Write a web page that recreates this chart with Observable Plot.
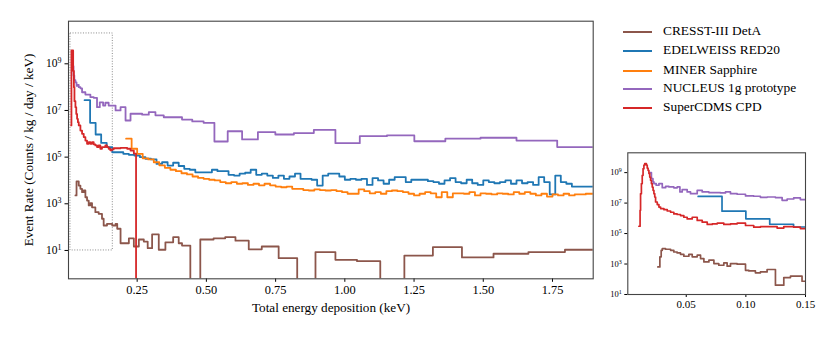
<!DOCTYPE html>
<html>
<head>
<meta charset="utf-8">
<script src="https://cdn.jsdelivr.net/npm/d3@7"></script>
<script src="https://cdn.jsdelivr.net/npm/@observablehq/plot@0.6"></script>
<style>
  html, body { margin: 0; padding: 0; background: #fff; }
  #wrap { position: relative; width: 831px; height: 340px; overflow: hidden;
          font-family: "Liberation Serif", "Times New Roman", serif; color: #000; }
  #wrap svg { position: absolute; overflow: visible; }
  .lab { position: absolute; font-size: 13.2px; white-space: nowrap; }
  .legrow { position: absolute; left: 623px; height: 14px; font-size: 13.4px; white-space: nowrap; }
  .legrow .sw { position: absolute; left: 0; top: 6px; width: 29px; height: 2px; }
  .legrow .tx { position: absolute; left: 40px; top: -2px; line-height: 16px; }
</style>
</head>
<body>
<div id="wrap"></div>
<script>
// ---------------- data ----------------
const experiments = ["CRESST-III DetA", "EDELWEISS RED20", "MINER Sapphire", "NUCLEUS 1g prototype", "SuperCDMS CPD"];
const colors = ["#8c564b", "#1f77b4", "#ff7f0e", "#9467bd", "#d62728"];

const xTicksMain = [0.25, 0.5, 0.75, 1.0, 1.25, 1.5, 1.75];
const yTicks = [1e1, 1e3, 1e5, 1e7, 1e9];
const xTicksInset = [0.05, 0.10, 0.15];

// Main panel: histogram bin edges (keV) and log10 of rate (counts/kg/day/keV); null = empty bin
const cresstEdges = [0.027,0.031,0.039,0.045,0.051,0.057,0.063,0.069,0.075,0.081,0.087,0.099,0.111,0.123,0.129,0.141,0.160,0.172,0.178,0.19,0.22,0.238,0.256,0.274,0.288,0.304,0.328,0.352,0.380,0.400,0.412,0.442,0.478,0.526,0.568,0.605,0.653,0.70,0.761,0.828,0.894,0.966,1.044,1.128,1.215,1.318,1.423,1.537,1.663,1.795,1.90];
const cresstLog = [3.36,3.96,3.78,3.64,3.50,3.57,3.28,3.14,2.93,3.03,2.85,2.64,2.57,2.36,2.07,2.14,2.07,2.14,1.93,1.31,1.52,1.17,1.47,1.38,1.10,1.69,1.03,1.35,1.57,1.31,1.21,null,1.47,1.52,1.57,1.42,1.05,1.17,0.67,null,0.93,0.60,0.54,null,0.78,1.14,0.70,0.86,0.93,1.03];

// EDELWEISS: uniform 0.02 keV bins starting at 0.06 keV
const edelweissStart = 0.06, edelweissWidth = 0.02;
const edelweissLog = [7.44,6.47,5.97,5.61,5.43, 5.21,5.21,5.14,5.10,5.07, 5.0,4.93,4.9,4.71,4.78,
  4.64,4.76,4.62,4.50,4.46, 4.35,4.35,4.35,4.46,4.40, 4.40,4.24,4.21,4.29,4.33, 4.46,4.24,4.29,4.21,4.11,
  4.21,4.07,4.17,4.29,4.07, 4.07,4.03,3.78,4.21,4.29, 4.29,4.17,4.03,4.07,4.03, 4.07,3.81,4.10,4.0,3.86,
  4.03,4.14,4.14,3.93,4.03, 4.03,4.03,3.97,3.93,3.86, 4.0,4.10,3.93,3.88,4.03, 3.88,3.81,4.0,3.93,3.88,
  3.93,4.0,3.86,4.0,3.88, 3.93,3.81,4.14,3.93,3.40, 4.21,3.93,3.86,3.74,3.74, 3.74,3.74];

// MINER: uniform 0.02 keV bins starting at 0.21 keV
const minerStart = 0.21, minerWidth = 0.02;
const minerLog = [5.79,5.36,5.14,4.95,4.90, 4.78,4.65,4.54,4.46,4.40, 4.31,4.26,4.17,4.11,4.07,
  4.03,4.0,3.93,3.88,3.93, 3.86,3.88,3.81,3.86,3.79, 3.86,3.79,3.74,3.71,3.74, 3.64,3.64,3.59,3.57,3.62,
  3.59,3.57,3.59,3.54,3.50, 3.43,3.43,3.62,3.54,3.45, 3.50,3.43,3.54,3.57,3.54, 3.50,3.43,3.36,3.43,3.50,
  3.45,3.28,3.50,3.28,3.45, 3.45,3.43,3.50,3.36,3.45, 3.43,3.40,3.45,3.43,3.40, 3.50,3.43,3.50,3.43,3.36,
  3.43,3.31,3.40,3.36,3.43, 3.36,3.40,3.40,3.43,3.43];

const nucleusEdges = [0.017,0.020,0.023,0.027,0.031,0.035,0.039,0.045,0.051,0.063,0.081,0.093,0.105,0.115,0.127,0.135,0.147,0.172,0.19,0.208,0.226,0.268,0.292,0.316,0.346,0.376,0.412,0.449,0.49,0.529,0.577,0.629,0.686,0.749,0.816,0.888,0.966,1.054,1.152,1.251,1.363,1.49,1.62,1.767,1.90];
const nucleusLog = [8.9,8.5,8.3,8.2,8.05,8.1,8.0,7.95,7.78,7.68,7.57,7.54,7.14,7.35,7.21,7.33,7.21,7.0,7.14,6.57,6.86,6.82,6.93,6.79,6.71,6.71,6.61,6.53,6.47,5.67,6.11,5.76,6.07,5.97,6.03,6.17,5.60,5.90,5.93,5.68,5.79,5.83,5.71,5.43];

const cdmsEdges = [0.0115,0.0126,0.0188,0.0215,0.0235,0.027,0.030,0.033,0.036,0.039,0.045,0.051,0.057,0.063,0.069,0.075,0.081,0.087,0.093,0.099,0.105,0.111,0.117,0.123,0.129,0.135,0.141,0.147,0.153,0.159,0.165,0.19,0.214,0.226,0.238,0.246,0.30];
const cdmsLog = [6.36,9.57,8.7,8.0,7.4,7.14,6.85,6.64,6.5,6.36,6.14,6.0,5.86,5.71,5.57,5.64,5.57,5.64,5.55,5.5,5.43,5.5,5.36,5.43,5.43,5.5,5.43,5.36,5.29,5.33,5.38,5.40,5.36,5.28,5.15,null];

// Inset panel (finer binning, 0 - 0.15 keV)
const insetCresstEdges = [0.0262,0.0279,0.0290,0.0299,0.0327,0.0369,0.0396,0.0424,0.0452,0.0480,0.0522,0.0550,0.0592,0.0620,0.0648,0.0690,0.0732,0.0773,0.0815,0.0843,0.0871,0.0927,0.0997,0.1025,0.1080,0.1122,0.1178,0.1248,0.1318,0.1374,0.1471,0.151];
const insetCresstLog = [2.81,3.47,3.90,4.01,3.97,3.90,3.79,3.73,3.64,3.51,3.64,3.47,3.58,3.36,3.14,3.25,3.03,2.92,3.07,2.86,3.03,2.99,2.59,2.55,2.42,2.48,2.64,1.61,2.11,2.20,1.87];

const insetNucleusEdges = [0.0195,0.0208,0.0221,0.0229,0.0248,0.0271,0.0299,0.0327,0.0355,0.0396,0.0424,0.0447,0.0466,0.0508,0.0536,0.0592,0.0634,0.069,0.0787,0.0829,0.0871,0.0927,0.0997,0.1066,0.1122,0.1178,0.1248,0.1304,0.1346,0.1401,0.1457,0.151];
const insetNucleusLog = [9.0,8.6,8.39,8.28,8.17,8.28,8.01,8.10,8.06,8.0,8.06,7.73,7.88,7.73,7.62,7.84,7.73,7.69,7.67,7.73,7.62,7.58,7.47,7.45,7.38,7.40,7.36,7.18,7.27,7.34,7.23];

const insetCdmsEdges = [0.0103,0.0113,0.0117,0.0124,0.0131,0.0138,0.0145,0.0152,0.0166,0.0173,0.0180,0.0187,0.0194,0.0201,0.0208,0.0215,0.0222,0.0229,0.0236,0.0243,0.0257,0.0271,0.0285,0.0313,0.0341,0.0369,0.0396,0.0424,0.0452,0.0480,0.0508,0.0550,0.0592,0.0634,0.0676,0.0718,0.0760,0.0815,0.0871,0.0927,0.0997,0.1066,0.1122,0.1178,0.1262,0.1318,0.1401,0.1457,0.151];
const insetCdmsLog = [5.48,6.53,7.62,8.28,8.82,9.26,9.5,9.59,9.5,9.3,9.15,8.95,8.71,8.5,8.28,8.05,7.84,7.62,7.40,7.07,6.90,6.74,6.64,6.57,6.48,6.40,6.29,6.25,6.18,6.07,5.96,6.07,5.86,5.75,5.60,5.64,5.68,5.60,5.64,5.68,5.53,5.42,5.46,5.46,5.36,5.46,5.42,5.33];

// inset region marker drawn on main panel
const zoomBox = [{x1: 0.009, x2: 0.162, y1: 10, y2: 2e10}];

// ---------------- helpers ----------------
const EMPTY = 1e-4; // empty bins fall below the axis (clipped)
function uniformEdges(start, width, n) { return d3.range(n + 1).map(k => +(start + k * width).toFixed(4)); }
function stepData(edges, logs) {
  const pts = logs.map((v, i) => ({x: edges[i], y: v == null ? EMPTY : Math.pow(10, v)}));
  pts.push({x: edges[logs.length], y: pts[pts.length - 1].y});
  return pts;
}
function stepLine(pts, color, w) {
  return Plot.line(pts, {x: "x", y: "y", curve: "step-after", stroke: color, strokeWidth: w, clip: true});
}
function superscripts(svg, baseSize, supSize) {
  svg.querySelectorAll("text").forEach(t => {
    const m = /^10\^(\d+)$/.exec(t.textContent);
    if (m) {
      t.textContent = "10";
      t.setAttribute("font-size", baseSize);
      const ts = document.createElementNS("http://www.w3.org/2000/svg", "tspan");
      ts.setAttribute("dy", "-0.5em");
      ts.setAttribute("font-size", supSize);
      ts.textContent = m[1];
      t.appendChild(ts);
    }
  });
}
const logFmt = d => "10^" + Math.round(Math.log10(d));

const mainSeries = [
  stepData(cresstEdges, cresstLog),
  stepData(uniformEdges(edelweissStart, edelweissWidth, edelweissLog.length), edelweissLog),
  stepData(uniformEdges(minerStart, minerWidth, minerLog.length), minerLog),
  stepData(nucleusEdges, nucleusLog),
  stepData(cdmsEdges, cdmsLog)
];
const insetSeries = [
  stepData(insetCresstEdges, insetCresstLog),
  mainSeries[1],
  null,
  stepData(insetNucleusEdges, insetNucleusLog),
  stepData(insetCdmsEdges, insetCdmsLog)
];

const wrap = document.getElementById("wrap");

// ---------------- main panel ----------------
const main = Plot.plot({
  width: 831, height: 340,
  marginLeft: 68, marginRight: 238.3, marginTop: 20.7, marginBottom: 61.7,
  style: {fontFamily: "Liberation Serif, serif", fontSize: "12.4px", background: "transparent", color: "#000", overflow: "visible"},
  x: {domain: [0.002, 1.897], ticks: xTicksMain, tickFormat: d3.format(".2f"), label: null, tickSize: 3.5, tickPadding: 3},
  y: {type: "log", domain: [0.61, 6.7e10], ticks: yTicks, tickFormat: logFmt, label: null, tickSize: 3.5, tickPadding: 3.5},
  marks: [
    Plot.rect(zoomBox, {x1: "x1", x2: "x2", y1: "y1", y2: "y2", fill: "none", stroke: "#8a8a8a", strokeWidth: 1, strokeDasharray: "1,1.6"}),
    ...mainSeries.map((s, i) => stepLine(s, colors[i], 1.8)),
    Plot.frame({stroke: "#444", strokeWidth: 1.1})
  ]
});
main.style.left = "0px"; main.style.top = "0px";
superscripts(main, "11.5px", "8px");
wrap.appendChild(main);

// ---------------- inset panel ----------------
const inset = Plot.plot({
  width: 241, height: 200,
  marginLeft: 37.3, marginRight: 26, marginTop: 22.3, marginBottom: 36,
  style: {fontFamily: "Liberation Serif, serif", fontSize: "11px", background: "transparent", color: "#000", overflow: "visible"},
  x: {domain: [0.001, 0.15], ticks: xTicksInset, tickFormat: d3.format(".2f"), label: null, tickSize: 3, tickPadding: 3},
  y: {type: "log", domain: [10, 2e10], ticks: yTicks, tickFormat: logFmt, label: null, tickSize: 3, tickPadding: 3},
  marks: [
    ...insetSeries.map((s, i) => s ? stepLine(s, colors[i], 1.7) : null).filter(Boolean),
    Plot.frame({stroke: "#444", strokeWidth: 1.1})
  ]
});
inset.style.left = "590px"; inset.style.top = "130px";
superscripts(inset, "8.5px", "6px");
wrap.appendChild(inset);

// ---------------- axis labels ----------------
const xl = document.createElement("div");
xl.className = "lab"; xl.textContent = "Total energy deposition (keV)";
xl.style.left = "331px"; xl.style.top = "300px"; xl.style.transform = "translateX(-50%)";
wrap.appendChild(xl);

const yl = document.createElement("div");
yl.className = "lab"; yl.textContent = "Event Rate (Counts / kg / day / keV)";
yl.style.left = "29px"; yl.style.top = "149.5px"; yl.style.transform = "translate(-50%,-50%) rotate(-90deg)";
wrap.appendChild(yl);

// ---------------- legend ----------------
const legendTops = [31.7, 51, 70.7, 89.3, 108.3];
experiments.forEach((name, i) => {
  const row = document.createElement("div");
  row.className = "legrow";
  row.style.top = (legendTops[i] - 7) + "px";
  const sw = document.createElement("div"); sw.className = "sw"; sw.style.background = colors[i];
  const tx = document.createElement("div"); tx.className = "tx"; tx.textContent = name;
  row.appendChild(sw); row.appendChild(tx);
  wrap.appendChild(row);
});
</script>
</body>
</html>
